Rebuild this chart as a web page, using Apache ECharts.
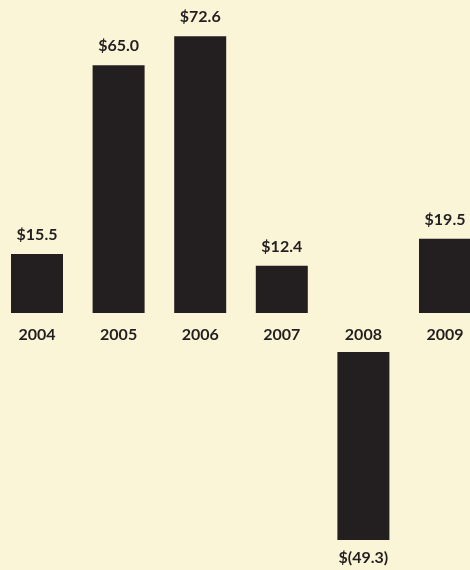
<!DOCTYPE html>
<html><head><meta charset="utf-8">
<script src="https://cdn.jsdelivr.net/npm/echarts@6/dist/echarts.min.js"></script>
<style>html,body{margin:0;padding:0;background:#FAF5D7;}#c{width:470px;height:570px;}</style>
</head><body><div id="c"></div>
<script>
const years = ['2004','2005','2006','2007','2008','2009'];
const values = [15.5, 65.0, 72.6, 12.4, -49.3, 19.5];

const posData = values.map(v => v >= 0 ? v : '-');
const negData = values.map(v => v < 0 ? v : '-');
const fmt = p => {
  const v = p.value;
  return v < 0 ? '$(' + Math.abs(v).toFixed(1) + ')' : '$' + v.toFixed(1);
};
const ink = '#231F20';
const font = 'Lato, "Open Sans", sans-serif';
const chart = echarts.init(document.getElementById('c'));
chart.setOption({
  backgroundColor: '#FAF5D7',
  animation: false,
  grid: [
    {left: 37, right: 25, top: 8, height: 305},
    {left: 37, right: 25, top: 352, height: 190.6}
  ],
  xAxis: [
    {type: 'category', data: years, gridIndex: 0, boundaryGap: false, axisLine: {show: false}, axisTick: {show: false},
     axisLabel: {color: ink, fontSize: 16, fontWeight: 'bold', fontFamily: font, margin: 14}},
    {type: 'category', data: years, gridIndex: 1, boundaryGap: false, show: false}
  ],
  yAxis: [
    {type: 'value', gridIndex: 0, min: 0, max: 80, show: false},
    {type: 'value', gridIndex: 1, min: -50, max: 0, show: false}
  ],
  series: [
    {type: 'bar', xAxisIndex: 0, yAxisIndex: 0, data: posData, barWidth: 52,
     itemStyle: {color: ink},
     label: {show: true, position: 'top', distance: 11, formatter: fmt, color: ink, fontSize: 16, fontWeight: 'bold', fontFamily: font}},
    {type: 'bar', xAxisIndex: 1, yAxisIndex: 1, data: negData, barWidth: 52,
     itemStyle: {color: ink},
     label: {show: true, position: 'bottom', distance: 10, formatter: fmt, color: ink, fontSize: 16, fontWeight: 'bold', fontFamily: font}}
  ]
});
</script></body></html>
